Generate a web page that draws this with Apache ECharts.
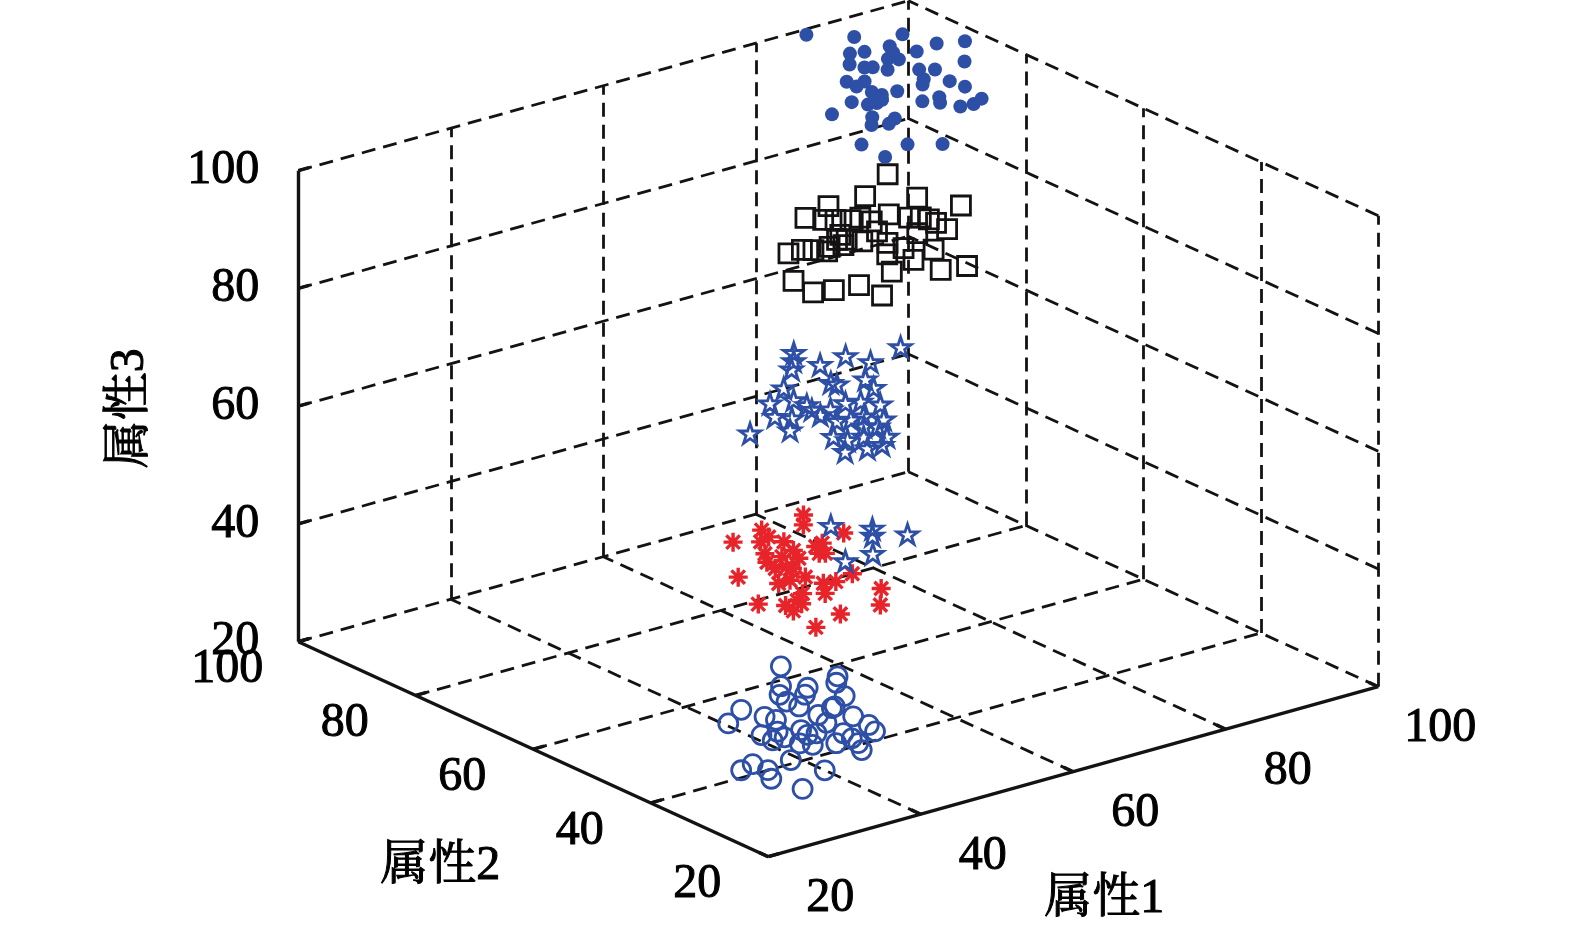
<!DOCTYPE html>
<html>
<head>
<meta charset="utf-8">
<title>属性1 / 属性2 / 属性3</title>
<script src="https://cdn.jsdelivr.net/npm/echarts@6/dist/echarts.min.js"></script>
<style>
html, body { margin: 0; padding: 0; background: #fff; }
#main { width: 1575px; height: 943px; }
</style>
</head>
<body>
<div id="main"></div>
<script>
// axis ticks (same for all three attributes) and names
var ticks = [20, 40, 60, 80, 100];
var axisNames = ['属性1', '属性2', '属性3'];

// points are [属性1, 属性2, 属性3]
var circles = [[34.9,37.2,39.1],[39.1,33.0,37.8],[38.7,32.7,37.0],[34.0,36.0,36.6],[36.1,34.2,36.4],[33.5,35.6,35.5],[35.6,34.0,35.5],[38.8,31.4,35.3],[29.7,37.2,33.6],[28.0,37.2,31.9],[31.3,35.3,32.7],[32.1,34.4,32.3],[33.8,34.8,34.6],[34.6,33.7,34.0],[37.2,31.5,33.8],[37.5,31.4,34.0],[38.6,29.7,32.7],[39.5,28.2,31.6],[39.7,27.4,30.8],[30.2,34.4,30.4],[30.9,33.4,29.7],[33.7,32.2,31.0],[34.0,31.5,30.4],[34.8,31.0,30.6],[36.1,31.0,31.9],[37.0,29.3,30.6],[37.5,28.5,29.9],[37.8,27.8,29.3],[37.8,27.2,28.4],[34.0,30.6,29.1],[33.0,31.5,29.3],[32.0,32.8,30.1],[31.5,31.1,27.2],[27.0,33.7,25.9],[28.2,33.3,26.7],[29.2,32.0,25.9],[29.1,31.3,24.8],[33.8,28.3,25.9],[31.2,28.7,23.5],[31.7,33.6,30.8],[35.8,32.0,32.9],[36.0,29.2,29.3]];
var asterisks = [[40.1,40.1,61.6],[39.7,39.6,60.3],[33.1,43.0,58.2],[36.0,41.9,59.7],[36.3,41.1,58.8],[35.4,41.3,58.2],[37.3,39.8,58.2],[37.7,38.7,57.1],[35.2,40.3,56.7],[35.0,39.7,55.6],[36.5,39.1,56.3],[36.4,38.2,55.0],[37.8,37.9,56.1],[39.7,37.5,57.6],[40.4,37.3,58.0],[40.2,36.5,56.7],[42.6,36.5,59.3],[32.0,40.7,53.7],[35.0,37.7,52.9],[36.1,37.2,53.3],[37.5,36.4,53.7],[38.7,34.9,52.9],[39.8,34.2,53.1],[41.5,33.6,54.1],[38.4,34.2,51.6],[36.5,35.6,51.6],[35.8,35.6,50.7],[34.6,36.0,50.1],[32.4,37.8,50.3],[35.0,35.2,49.4],[38.7,32.0,49.0],[36.1,32.8,47.3],[43.2,30.9,52.2],[42.4,30.0,50.1],[35.4,38.8,54.8],[36.8,37.7,54.8],[36.0,35.1,50.3],[39.7,36.9,56.7]];
var pentagrams = [[66.4,57.7,72.6],[57.4,64.2,71.9],[57.0,63.7,70.9],[59.0,61.8,70.4],[61.5,60.7,71.5],[63.3,58.8,70.7],[56.5,63.4,69.8],[55.0,62.8,67.4],[59.1,60.1,68.1],[59.5,59.6,67.9],[62.1,58.1,68.5],[62.4,57.1,67.4],[53.2,62.8,65.5],[55.3,61.5,65.9],[53.0,61.7,63.8],[54.3,60.5,63.6],[53.6,59.9,62.1],[50.2,62.3,61.7],[56.3,59.7,64.7],[56.8,58.9,64.0],[57.9,58.6,64.7],[59.4,58.0,65.5],[60.7,57.1,65.7],[62.2,55.7,65.3],[57.9,57.5,63.2],[59.1,56.7,63.4],[60.3,56.1,63.8],[61.8,54.6,63.4],[56.9,56.8,61.2],[57.9,55.7,60.8],[59.4,54.9,61.2],[61.3,53.4,61.2],[57.2,55.2,59.3],[59.2,54.0,59.7],[60.5,53.2,60.2],[56.1,60.3,65.3],[59.9,55.5,62.5],[61.0,54.6,62.5],[52.7,51.8,49.9],[56.0,49.0,49.5],[55.7,48.6,48.6],[58.6,46.4,48.8],[52.3,48.8,45.4],[54.9,47.5,46.3]];
var squares = [[82.5,80.8,85.6],[79.7,81.0,82.8],[83.9,77.6,82.6],[87.1,74.3,81.6],[76.2,82.7,81.6],[73.8,83.5,80.1],[75.2,82.3,79.8],[76.2,81.5,79.8],[77.4,80.5,79.8],[78.3,80.0,80.1],[80.8,78.4,80.5],[82.3,76.9,80.1],[83.3,76.2,80.1],[83.9,75.6,79.8],[84.3,74.9,79.4],[79.1,79.1,79.6],[84.9,73.8,78.6],[75.9,80.3,77.9],[79.1,78.2,78.3],[74.5,80.3,76.4],[75.7,79.5,76.6],[77.4,78.5,77.1],[70.8,82.5,75.6],[72.1,81.9,76.0],[73.0,81.1,76.0],[74.1,80.2,75.8],[79.4,76.8,76.9],[78.9,76.2,75.4],[80.5,75.5,76.2],[80.8,74.2,74.7],[82.9,73.5,76.0],[82.6,71.9,73.4],[84.9,70.4,73.9],[78.5,74.9,73.2],[70.0,80.6,72.1],[71.1,78.7,70.6],[72.9,77.5,70.9],[75.2,76.2,71.5],[76.6,74.1,70.2],[75.4,80.2,77.3],[82.3,75.5,78.1],[76.2,79.6,77.3]];
var dots = [[87.1,100.6,98.6],[90.9,97.4,98.3],[95.0,94.5,98.6],[93.4,94.6,97.1],[91.1,95.9,96.4],[89.8,96.7,96.2],[95.4,92.6,96.4],[97.4,91.8,97.4],[99.8,90.1,97.7],[93.4,94.0,96.3],[93.6,93.3,95.4],[92.7,94.0,95.5],[89.3,96.1,94.8],[90.4,95.0,94.4],[91.1,94.5,94.4],[92.2,93.4,94.1],[94.8,91.4,94.1],[96.1,90.4,94.1],[98.9,89.0,95.1],[88.3,95.3,92.6],[89.8,94.2,92.6],[88.9,94.4,92.0],[94.7,90.5,92.9],[94.4,90.3,92.2],[96.8,88.8,92.6],[97.8,87.5,91.9],[89.9,93.1,91.3],[90.6,92.3,90.9],[92.0,91.5,91.4],[87.8,93.8,90.0],[89.0,92.6,89.7],[89.8,92.1,89.9],[90.4,92.0,90.3],[93.6,89.3,90.1],[95.2,88.5,90.6],[95.0,88.1,89.9],[96.5,86.6,89.4],[97.7,85.9,89.7],[98.6,85.7,90.4],[85.6,94.3,88.5],[88.8,91.6,88.1],[88.4,91.2,87.1],[89.9,90.2,87.2],[90.6,90.1,87.9],[86.7,90.7,84.6],[90.5,87.8,84.6],[93.4,85.6,84.6],[88.1,88.5,83.0]];

var blue = '#2e4fa6', red = '#e8242b', ink = '#141212';
var font = "'Liberation Serif', 'Times New Roman', 'Noto Serif CJK SC', 'Noto Sans CJK SC', serif";

// oblique view of the cube: where corner (20,20,20) sits on the view plane
// and how far one unit of each attribute moves it
var lo = 20, hi = 100;
var view = { ox: 768.3, oy: 856.7, a1: [7.625, -2.125], a2: [-5.875, -2.6875], a3: [0, -5.8875] };

function proj(p) {
    var a = p[0] - lo, b = p[1] - lo, c = p[2] - lo;
    return [view.ox + a * view.a1[0] + b * view.a2[0] + c * view.a3[0],
            view.oy + a * view.a1[1] + b * view.a2[1] + c * view.a3[1]];
}

var dashed = [], solid = [];
function seg(list, p, q) { list.push({ coords: [proj(p), proj(q)] }); }

ticks.forEach(function (t) {
    if (t > lo) {
        seg(dashed, [t, lo, lo], [t, hi, lo]);   // floor
        seg(dashed, [lo, t, lo], [hi, t, lo]);   // floor
        seg(dashed, [t, hi, lo], [t, hi, hi]);   // back wall
        seg(dashed, [lo, hi, t], [hi, hi, t]);   // back wall
        seg(dashed, [hi, lo, t], [hi, hi, t]);   // side wall
    }
    if (t < hi) seg(dashed, [hi, t, lo], [hi, t, hi]); // side wall
    // little tick marks on the solid axes
    seg(solid, [t, lo, lo], [t, lo + 1.6, lo]);
    seg(solid, [lo, t, lo], [lo + 1.4, t, lo]);
    seg(solid, [lo, hi, t], [lo + 1.4, hi, t]);
});
seg(solid, [lo, lo, lo], [hi, lo, lo]);
seg(solid, [lo, lo, lo], [lo, hi, lo]);
seg(solid, [lo, hi, lo], [lo, hi, hi]);

function pts(list) { return list.map(proj); }

function textSeries(items, label) {
    return {
        type: 'scatter', silent: true, symbolSize: 1, z: 5,
        itemStyle: { color: 'rgba(0,0,0,0)' },
        data: items,
        label: Object.assign({
            show: true, position: 'inside', color: '#000', opacity: 1,
            fontFamily: font, fontSize: 48,
            textBorderColor: '#000', textBorderWidth: 1,
            formatter: function (p) { return p.value[2]; }
        }, label)
    };
}

function tickItems(f) {
    return ticks.map(function (t) { var q = proj(f(t)); return [q[0], q[1], t]; });
}
function nameItem(p, name) { var q = proj(p); return [[q[0], q[1], name]]; }

var none = 'rgba(0,0,0,0)';
var starPath = 'path://M100,0L122.45,69.1L195.1,69.1L136.3,111.8L158.8,180.9L100,138.2L41.2,180.9L63.7,111.8L4.9,69.1L77.55,69.1Z';
var asteriskPath = 'path://M10,0L10,20M0,10L20,10M2.9,2.9L17.1,17.1M2.9,17.1L17.1,2.9';

var myChart = echarts.init(document.getElementById('main'));
var option = {
    animation: false,
    backgroundColor: '#fff',
    grid: { left: 0, right: 0, top: 0, bottom: 0 },
    xAxis: { type: 'value', min: 0, max: 1575, show: false },
    yAxis: { type: 'value', min: 0, max: 943, inverse: true, show: false },
    series: [
        {
            type: 'lines', coordinateSystem: 'cartesian2d', silent: true, z: 1,
            lineStyle: { color: ink, width: 2.8, type: [14, 8], opacity: 1 },
            data: dashed
        },
        {
            type: 'lines', coordinateSystem: 'cartesian2d', silent: true, z: 1,
            lineStyle: { color: ink, width: 3.4, opacity: 1 },
            data: solid
        },
        {
            type: 'scatter', z: 3, symbol: 'circle', symbolSize: 19,
            itemStyle: { color: none, borderColor: blue, borderWidth: 2.8, opacity: 1 },
            data: pts(circles)
        },
        {
            type: 'scatter', z: 3, symbol: asteriskPath, symbolSize: 19,
            itemStyle: { color: none, borderColor: red, borderWidth: 3.4, opacity: 1 },
            data: pts(asterisks)
        },
        {
            type: 'scatter', z: 3, symbol: starPath, symbolSize: 21, symbolKeepAspect: true,
            itemStyle: { color: none, borderColor: blue, borderWidth: 2.8, opacity: 1 },
            data: pts(pentagrams)
        },
        {
            type: 'scatter', z: 3, symbol: 'rect', symbolSize: 19,
            itemStyle: { color: none, borderColor: ink, borderWidth: 2.8, opacity: 1 },
            data: pts(squares)
        },
        {
            type: 'scatter', z: 3, symbol: 'circle', symbolSize: 14,
            itemStyle: { color: blue, opacity: 1 },
            data: pts(dots)
        },
        // tick labels
        textSeries(tickItems(function (t) { return [t, lo, lo]; }), { offset: [62, 42] }),
        textSeries(tickItems(function (t) { return [lo, t, lo]; }), { offset: [-71, 28] }),
        textSeries(tickItems(function (t) { return [lo, hi, t]; }), { offset: [-39, 0], align: 'right' }),
        // axis names (the rotated one takes its offset in the turned frame)
        textSeries(nameItem([60, lo, lo], axisNames[0]), { offset: [31, 128] }),
        textSeries(nameItem([lo, 60, lo], axisNames[1]), { offset: [-93, 117] }),
        textSeries(nameItem([lo, hi, 60], axisNames[2]), { offset: [-2, -168], rotate: 90 })
    ]
};
myChart.setOption(option);
</script>
</body>
</html>
